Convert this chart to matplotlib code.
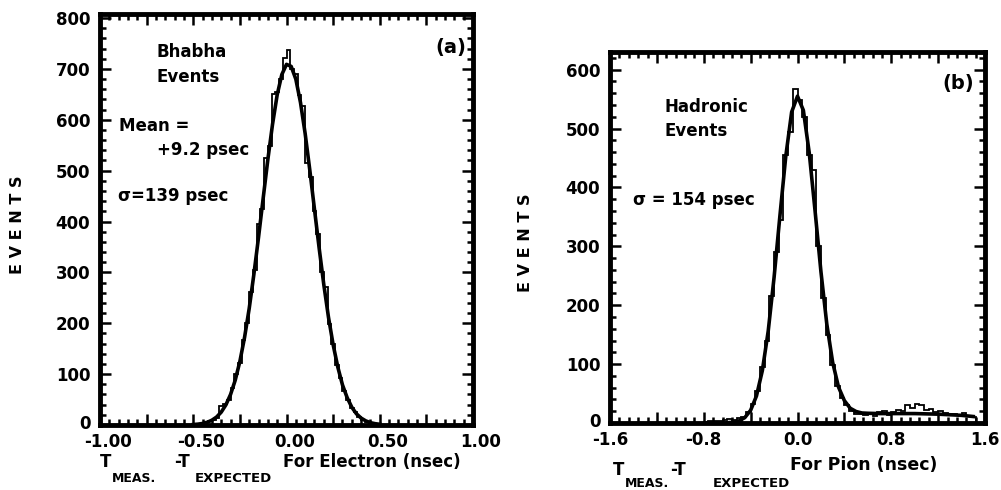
import numpy as np
import matplotlib
matplotlib.use("Agg")
import matplotlib.pyplot as plt
from matplotlib.ticker import MultipleLocator
from matplotlib.transforms import ScaledTranslation

# ---------------- data: panel (a) Bhabha events ----------------
a_bin_start = -0.50
a_bin_width = 0.02
a_counts = [1, 2, 3, 5, 8, 10, 14, 38, 42, 50,
            72, 100, 122, 168, 200, 262, 305, 395, 425, 525,
            548, 650, 655, 680, 722, 738, 700, 690, 648, 627,
            515, 488, 420, 375, 300, 272, 198, 160, 118, 92,
            66, 50, 34, 25, 16, 10, 6, 4, 2, 1]
a_fit_x = [-0.500, -0.475, -0.450, -0.425, -0.400, -0.375, -0.350, -0.325, -0.300,
           -0.275, -0.250, -0.225, -0.200, -0.175, -0.150, -0.125, -0.100, -0.075,
           -0.050, -0.025, 0.000, 0.025, 0.050, 0.075, 0.100, 0.125, 0.150, 0.175,
           0.200, 0.225, 0.250, 0.275, 0.300, 0.325, 0.350, 0.375, 0.400, 0.425,
           0.450, 0.475, 0.500]
a_fit_y = [0.9, 1.7, 3.0, 5.4, 9.4, 15.6, 25.3, 39.6, 60,
           88, 125, 172, 229, 296, 369, 446, 522, 591,
           649, 689, 709, 705, 680, 634, 573, 501, 424, 348,
           276, 212, 158, 114, 79, 54, 35, 22, 13.6, 8.1,
           4.6, 2.6, 1.4]

# ---------------- data: panel (b) Hadronic events ----------------
b_bin_start = -0.80
b_bin_width = 0.04
b_counts = [2, 3, 4, 3, 5, 6, 5, 8, 10, 18,
            32, 55, 95, 140, 215, 290, 345, 455, 495, 568,
            548, 520, 455, 430, 300, 212, 150, 98, 62, 42,
            30, 20, 16, 15, 14, 15, 12, 18, 20, 14,
            18, 22, 20, 30, 26, 33, 30, 22, 24, 18,
            20, 17, 15, 16, 14, 17, 12, 10]
b_fit_x = [-0.60, -0.55, -0.50, -0.45, -0.40, -0.35, -0.30, -0.25, -0.20, -0.15,
           -0.10, -0.05, 0.00, 0.05, 0.10, 0.15, 0.20, 0.25, 0.30, 0.35,
           0.40, 0.45, 0.50, 0.55, 0.60, 0.70, 0.80, 0.90, 1.00, 1.10,
           1.20, 1.30, 1.40, 1.50]
b_fit_y = [0.4, 1.2, 3.5, 9.1, 21.6, 46, 89, 156, 247, 352,
           453, 528, 555, 531, 459, 360, 257, 168, 103, 61,
           38, 25, 19.5, 17, 16.5, 16, 16, 16, 16, 15.5,
           15, 14, 13, 11]

a_xticks = [-1.00, -0.50, 0.00, 0.50, 1.00]
a_xlabels = ["-1.00", "-0.50", "0.00", "0.50", "1.00"]
a_yticks = [0, 100, 200, 300, 400, 500, 600, 700, 800]
b_xticks = [-1.6, -0.8, 0.0, 0.8, 1.6]
b_xlabels = ["-1.6", "-0.8", "0.0", "0.8", "1.6"]
b_yticks = [0, 100, 200, 300, 400, 500, 600]

W, H = 1001, 490
fig = plt.figure(figsize=(W / 100, H / 100), dpi=100)
plt.rcParams['font.family'] = ['DejaVu Sans']
FW = 'bold'
TICKSIZE = 12


def ax_rect(l, t, r, b):
    return [l / W, 1 - b / H, (r - l) / W, (b - t) / H]


def style_axes(ax, xmaj, xmin, ymin_step):
    for s in ax.spines.values():
        s.set_linewidth(3.5)
    ax.xaxis.set_major_locator(MultipleLocator(xmaj))
    ax.xaxis.set_minor_locator(MultipleLocator(xmin))
    ax.yaxis.set_major_locator(MultipleLocator(100))
    ax.yaxis.set_minor_locator(MultipleLocator(ymin_step))
    ax.tick_params(which='both', direction='in', top=True, right=True,
                   labelsize=TICKSIZE, width=1.8)
    ax.tick_params(axis='x', which='major', pad=6)
    ax.tick_params(axis='y', which='major', pad=7)
    ax.tick_params(which='major', length=8)
    ax.tick_params(which='minor', length=4)


def lift_zero(ax):
    up = ScaledTranslation(0, 3 / 100, fig.dpi_scale_trans)
    lab = ax.get_yticklabels()[0]
    lab.set_transform(lab.get_transform() + up)


# ---------------- panel (a) ----------------
ax1 = fig.add_axes(ax_rect(100, 14, 473, 425))
edges_a = a_bin_start + a_bin_width * np.arange(len(a_counts) + 1)
ax1.stairs(a_counts, edges_a, color='black', lw=1.3)
ax1.plot(a_fit_x, a_fit_y, color='black', lw=2.6, solid_joinstyle='round')
ax1.set_xlim(-1.0, 1.0)
ax1.set_ylim(0, 808)
style_axes(ax1, 0.25, 0.05, 20)
ax1.set_xticks(a_xticks + [-0.75, -0.25, 0.25, 0.75])
ax1.set_xticklabels(a_xlabels + [""] * 4, fontweight=FW, fontsize=TICKSIZE)
ax1.set_yticks(a_yticks)
ax1.set_yticklabels([str(v) for v in a_yticks], fontweight=FW, fontsize=TICKSIZE)
shift = ScaledTranslation(8 / 100, 0, fig.dpi_scale_trans)
for lab in ax1.get_xticklabels():
    lab.set_transform(lab.get_transform() + shift)
lift_zero(ax1)

# ---------------- panel (b) ----------------
ax2 = fig.add_axes(ax_rect(610, 52, 985, 423))
edges_b = b_bin_start + b_bin_width * np.arange(len(b_counts) + 1)
ax2.stairs(b_counts, edges_b, color='black', lw=1.3)
ax2.plot(b_fit_x, b_fit_y, color='black', lw=2.6, solid_joinstyle='round')
ax2.set_xlim(-1.6, 1.6)
ax2.set_ylim(0, 630)
style_axes(ax2, 0.4, 0.08, 20)
ax2.set_xticks(b_xticks + [-1.2, -0.4, 0.4, 1.2])
ax2.set_xticklabels(b_xlabels + [""] * 4, fontweight=FW, fontsize=TICKSIZE)
ax2.set_yticks(b_yticks)
ax2.set_yticklabels([str(v) for v in b_yticks], fontweight=FW, fontsize=TICKSIZE)
lift_zero(ax2)


def ftext(x, y, s, size=11, ha='left', va='center', **kw):
    fig.text(x / W, 1 - y / H, s, fontsize=size, ha=ha, va=va,
             fontweight=FW, **kw)


# annotations (a)
ftext(157, 52, "Bhabha", 12)
ftext(157, 77, "Events", 12)
ftext(119, 126, "Mean =", 12)
ftext(157, 150, "+9.2 psec", 12)
ftext(118, 196, "σ=139 psec", 12)
ftext(466, 47, "(a)", 14, ha='right')
ftext(18, 225, "E V E N T S", 11.5, ha='center', rotation=90)
ftext(100, 462, "T", 12)
ftext(112, 478, "MEAS.", 9)
ftext(174, 462, "-T", 12)
ftext(195, 478, "EXPECTED", 9.5)
ftext(283, 462, "For Electron (nsec)", 12)

# annotations (b)
ftext(665, 107, "Hadronic", 12)
ftext(665, 131, "Events", 12)
ftext(633, 200, "σ = 154 psec", 12)
ftext(974, 83, "(b)", 14, ha='right')
ftext(526, 243, "E V E N T S", 11.5, ha='center', rotation=90)
ftext(613, 470, "T", 12)
ftext(625, 483, "MEAS.", 9)
ftext(670, 470, "-T", 12)
ftext(713, 483, "EXPECTED", 9.5)
ftext(790, 465, "For Pion (nsec)", 12.5)

fig.savefig("out.png", dpi=100)
